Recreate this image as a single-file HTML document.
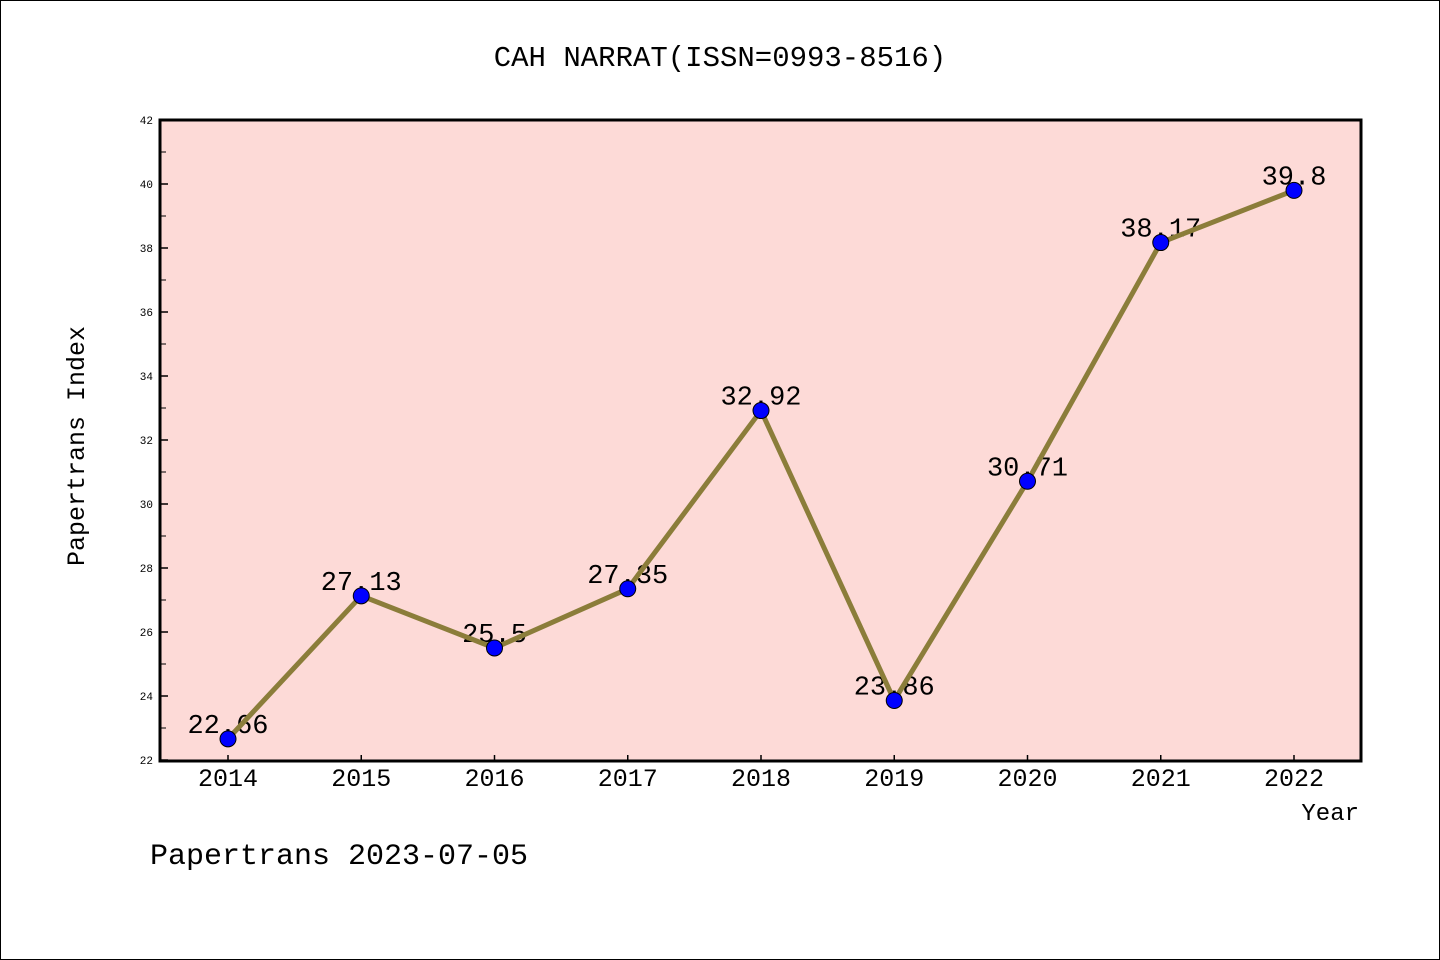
<!DOCTYPE html>
<html><head><meta charset="utf-8"><style>
html,body{margin:0;padding:0;background:#fff}
svg{display:block;font-family:"Liberation Mono",monospace}
</style></head><body>
<svg id="chart" width="1440" height="960">
<rect x="0.5" y="0.5" width="1439" height="959" fill="#fff" stroke="#000"/>
<text x="720" y="66" text-anchor="middle" font-size="29">CAH NARRAT(ISSN=0993-8516)</text>
<rect x="160" y="120" width="1201" height="641" fill="#fddad7"/>
<g id="axes"></g>
<g id="labels"></g>
<g id="series"></g>
<rect x="160" y="120" width="1201" height="641" fill="none" stroke="#000" stroke-width="3"/>
<text x="84" y="446" text-anchor="middle" font-size="25" transform="rotate(-90 84 446)">Papertrans Index</text>
<text x="1359" y="820" text-anchor="end" font-size="24">Year</text>
<text x="150" y="864" font-size="30">Papertrans 2023-07-05</text>
</svg>
<script>
const years = [2014,2015,2016,2017,2018,2019,2020,2021,2022];
const values = [22.66,27.13,25.5,27.35,32.92,23.86,30.71,38.17,39.8];
const valueLabels = ["22.66","27.13","25.5","27.35","32.92","23.86","30.71","38.17","39.8"];
const yTicks = [22,24,26,28,30,32,34,36,38,40,42];
const NS="http://www.w3.org/2000/svg";
const x = i => 228 + i*133.25;
const y = v => 760 - (v-22)*32;
function mk(tag, attrs, parent){const e=document.createElementNS(NS,tag);for(const k in attrs)e.setAttribute(k,attrs[k]);parent.appendChild(e);return e;}
const axes=document.getElementById('axes'), labels=document.getElementById('labels'), series=document.getElementById('series');
yTicks.forEach((t,k)=>{
  const l=mk('line',{x1:160,x2:168,y1:y(t),y2:y(t),stroke:'#000','stroke-width':1.5},axes);
  
  
  if(k<yTicks.length-1){
    const m=mk('line',{x1:160,x2:166,y1:y(t+1),y2:y(t+1),stroke:'#000','stroke-width':1},axes);
    
    
  }
  const tx=mk('text',{x:153,y:y(t)+4,'text-anchor':'end','font-size':11},axes);
  tx.textContent=t;
  
  
});
years.forEach((yr,i)=>{
  const l=mk('line',{x1:x(i),x2:x(i),y1:755,y2:761,stroke:'#000','stroke-width':1.5},axes);
  
  
  const tx=mk('text',{x:x(i),y:786,'text-anchor':'middle','font-size':25},axes);
  tx.textContent=yr;
  
  
  const vl=mk('text',{x:x(i),y:y(values[i])-6,'text-anchor':'middle','font-size':27},labels);
  vl.textContent=valueLabels[i];
  
  
});
const pl=mk('polyline',{points:values.map((v,i)=>x(i)+','+y(v)).join(' '),fill:'none',stroke:'#8b7d3a','stroke-width':5,'stroke-linejoin':'round'},series);


values.forEach((v,i)=>{
  const c=mk('circle',{cx:x(i),cy:y(v),r:8,fill:'#0000ff',stroke:'#000','stroke-width':1},series);
  
  
});
</script>
</body></html>
